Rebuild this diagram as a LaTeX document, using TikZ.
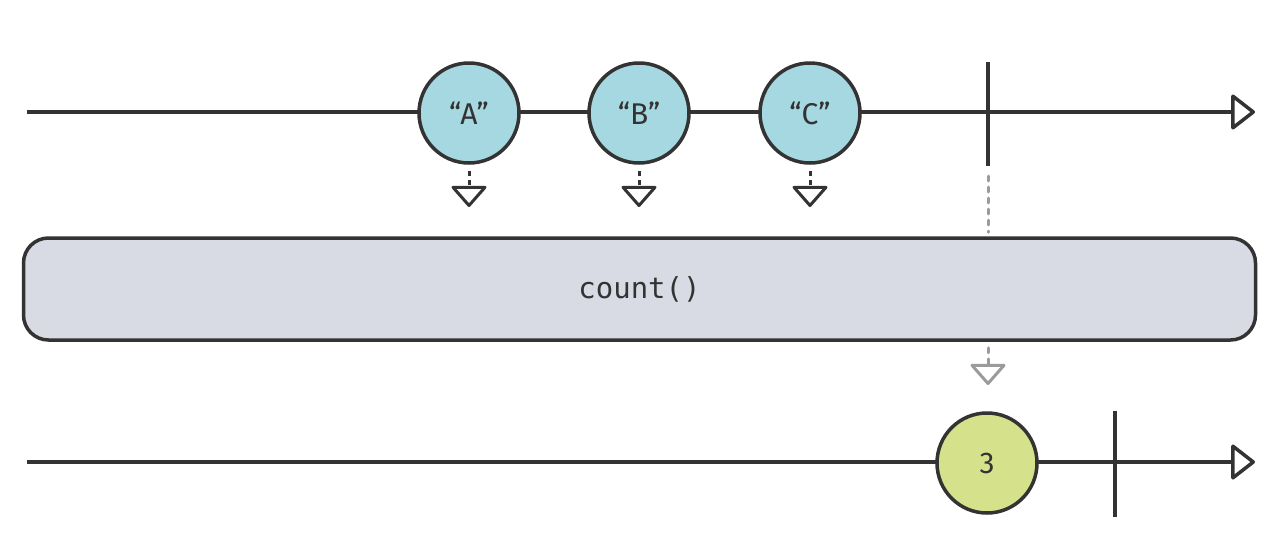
\documentclass[tikz,border=0pt]{standalone}
\usepackage{fontspec}
\setmainfont{Fira Sans}
\setmonofont{DejaVu Sans Mono}
\usetikzlibrary{arrows.meta}
\definecolor{ink}{HTML}{333333}
\definecolor{marbleblue}{HTML}{A6D8E1}
\definecolor{marblegreen}{HTML}{D6E28B}
\definecolor{opgray}{HTML}{D8DBE3}
\definecolor{resultgray}{HTML}{9B9B9B}

\begin{document}
\begin{tikzpicture}[
        x=1pt, y=-1pt,
        line width=3.5pt,
        timeline/.style={draw=ink, -{Triangle[open, round, length=25pt, width=38pt]}},
        tick/.style={draw=ink},
        marble/.style={circle, draw=ink, line width=3.5pt, minimum size=100pt, inner sep=0pt, font=\fontsize{30}{33}\selectfont, text=ink},
        opbox/.style={rectangle, rounded corners=25pt, draw=ink, fill=opgray, line width=3.5pt, minimum width=1232pt, minimum height=102pt, font=\ttfamily\fontsize{29}{32}\selectfont, text=ink},
        emit/.style={draw=ink, line width=3pt, dash pattern=on 5pt off 4pt, shorten <=6pt, -{Triangle[open, round, length=22pt, width=38pt]}},
        result/.style={draw=resultgray, line width=3pt, line cap=round, dash pattern=on 5pt off 6pt}
        ]

        \useasboundingbox (0,0) rectangle (1280,552);

        % Timelines
        \coordinate (in start) at (27,112);
        \coordinate (in end) at (1255,112);
        \coordinate (out start) at (27,462);
        \coordinate (out end) at (1255,462);
        \draw[timeline] (in start) -- (in end);
        \draw[timeline] (out start) -- (out end);

        % Completion ticks
        \coordinate (in tick top) at (988,62);
        \coordinate (in tick bot) at (988,166);
        \coordinate (out tick top) at (1115,411);
        \coordinate (out tick bot) at (1115,517);
        \draw[tick] (in tick top) -- (in tick bot);
        \draw[tick] (out tick top) -- (out tick bot);

        % Nodes
        \node[marble, fill=marbleblue] (a) at (469,113) {“A”};
        \node[marble, fill=marbleblue] (b) at (639,113) {“B”};
        \node[marble, fill=marbleblue] (c) at (810,113) {“C”};
        \node[opbox] (op) at (639.5,289) {count()};
        \node[marble, fill=marblegreen] (three) at (987,463) {3};

        % Arrows
        \coordinate (a tip) at (469,207);
        \coordinate (b tip) at (639,207);
        \coordinate (c tip) at (810,207);
        \coordinate (three tip) at (988,385);
        \draw[emit] (a) -- (a tip);
        \draw[emit] (b) -- (b tip);
        \draw[emit] (c) -- (c tip);
        \draw[result, shorten <=10pt, shorten >=4pt] (in tick bot) -- (op.north -| in tick bot);
        \draw[result, shorten <=6pt, -{Triangle[open, round, length=22pt, width=38pt]}] (op.south -| in tick bot) -- (three tip);

    \end{tikzpicture}
\end{document}
